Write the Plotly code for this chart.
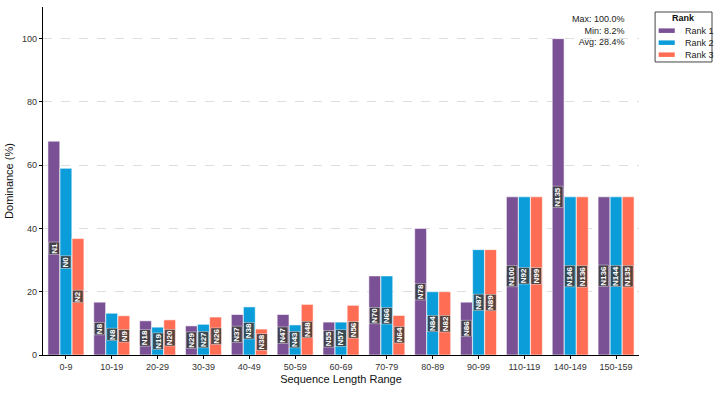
"""Dominance by sequence length range, top-3 ranks."""

import plotly.graph_objects as go

CATEGORIES = ["0-9", "10-19", "20-29", "30-39", "40-49", "50-59", "60-69",
              "70-79", "80-89", "90-99", "110-119", "140-149", "150-159"]

RANK1 = [67.6, 16.7, 10.8, 9.2, 12.8, 12.8, 10.4, 25.0, 40.0, 16.7, 50.0, 100.0, 50.0]
RANK2 = [59.0, 13.2, 8.8, 9.7, 15.2, 9.5, 10.4, 25.0, 20.0, 33.3, 50.0, 50.0, 50.0]
RANK3 = [36.8, 12.4, 11.1, 12.0, 8.2, 16.0, 15.7, 12.5, 20.0, 33.3, 50.0, 50.0, 50.0]

LABELS1 = ["N1", "N8", "N18", "N29", "N37", "N47", "N55", "N70", "N78", "N86", "N100", "N135", "N136"]
LABELS2 = ["N0", "N8", "N19", "N27", "N38", "N43", "N57", "N66", "N84", "N87", "N92", "N146", "N144"]
LABELS3 = ["N2", "N9", "N20", "N26", "N38", "N48", "N56", "N64", "N82", "N89", "N99", "N136", "N135"]

STATS_TEXT = "Max: 100.0%<br>Min: 8.2%<br>Avg: 28.4%"

COLORS = ["#7A5195", "#0A9DD9", "#FF6E54"]
FONT = "Liberation Sans, Arial, sans-serif"

series = [("Rank 1", RANK1, LABELS1), ("Rank 2", RANK2, LABELS2), ("Rank 3", RANK3, LABELS3)]

fig = go.Figure()
for (name, values, _), color in zip(series, COLORS):
    fig.add_trace(
        go.Bar(
            x=CATEGORIES,
            y=values,
            name=name,
            marker=dict(color=color, line=dict(color="rgba(255,255,255,0.7)", width=0.8)),
        )
    )

# node labels in the middle of each bar
bar_px = 12.2
for k, (_, values, labels) in enumerate(series):
    for cat, val, lab in zip(CATEGORIES, values, labels):
        fig.add_annotation(
            x=cat, y=val / 2, xref="x", yref="y",
            xshift=(k - 1) * bar_px,
            text=f"<b>{lab}</b>", textangle=-90, showarrow=False,
            font=dict(family=FONT, size=8, color="white"),
            bgcolor="rgba(60,60,60,0.85)", bordercolor="rgba(255,255,255,0.8)",
            borderwidth=0.5, borderpad=0.5,
        )

fig.add_annotation(
    x=0.98, y=0.985, xref="paper", yref="paper", xanchor="right", yanchor="top",
    text=STATS_TEXT, align="right", showarrow=False,
    font=dict(family=FONT, size=9, color="#222"),
)

# compact matplotlib-style legend box (paper coords, outside the plot on the right)
fig.add_shape(type="rect", xref="paper", yref="paper", x0=1.027, x1=1.1225, y0=0.842, y1=0.9856,
              line=dict(color="#444", width=1), fillcolor="white", layer="above")
fig.add_annotation(x=1.075, y=0.967, xref="paper", yref="paper", xanchor="center", yanchor="middle",
                   text="<b>Rank</b>", showarrow=False, font=dict(family=FONT, size=9, color="#111"))
for i, ((name, _, _), color) in enumerate(zip(series, COLORS)):
    yc = 0.932 - i * 0.0345
    fig.add_shape(type="rect", xref="paper", yref="paper", x0=1.033, x1=1.060,
                  y0=yc - 0.0065, y1=yc + 0.0065, line=dict(width=0), fillcolor=color, layer="above")
    fig.add_annotation(x=1.073, y=yc, xref="paper", yref="paper", xanchor="left", yanchor="middle",
                       text=name, showarrow=False, font=dict(family=FONT, size=9, color="#222"))

fig.update_layout(
    width=718, height=393,
    margin=dict(l=43, r=79, t=7, b=38, autoexpand=False),
    barmode="group", bargap=0.21, bargroupgap=0.02,
    paper_bgcolor="white", plot_bgcolor="white",
    font=dict(family=FONT, size=9, color="#333"),
    showlegend=False,
)
fig.update_xaxes(
    title=dict(text="Sequence Length Range", font=dict(size=11, color="#111"), standoff=4),
    showline=True, linecolor="black", linewidth=1.2,
    ticks="outside", ticklen=3, tickcolor="black", showgrid=False,
    tickfont=dict(size=9, color="#333"), automargin=False,
)
fig.update_yaxes(
    title=dict(text="Dominance (%)", font=dict(size=11, color="#111"), standoff=6),
    range=[0, 110], tickvals=[0, 20, 40, 60, 80, 100],
    showline=True, linecolor="black", linewidth=1.2,
    ticks="outside", ticklen=3, tickcolor="black",
    showgrid=True, gridcolor="rgba(200,200,200,0.6)", griddash="dash", gridwidth=0.6,
    zeroline=False, tickfont=dict(size=9, color="#333"), automargin=False,
)

# the page's default body margin would shift the figure by 8px
fig.write_html("out.html", config={"displayModeBar": False},
               post_script="document.body.style.margin='0';")
